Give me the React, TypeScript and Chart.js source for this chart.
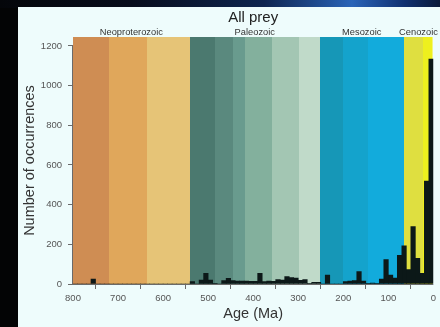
import React, { useEffect, useRef } from "react";
import { Chart, registerables } from "chart.js";

Chart.register(...registerables);

// Histogram bins (10 Myr), bin centre ages in Ma
const BIN_AGES = [
  5, 15, 25, 35, 45, 55, 65, 75, 85, 95,
  105, 115, 125, 135, 145, 155, 165, 175, 185, 195,
  205, 215, 225, 235, 245, 255, 265, 275, 285, 295,
  305, 315, 325, 335, 345, 355, 365, 375, 385, 395,
  405, 415, 425, 435, 445, 455, 465, 475, 485, 495,
  505, 515, 525, 535, 545, 555, 565, 575, 585, 595,
  605, 615, 625, 635, 645, 655, 665, 675, 685, 695,
  705, 715, 725, 735, 745, 755, 765, 775, 785, 795,
];
const COUNTS = [
  1134, 519, 54, 130, 290, 73, 192, 144, 30, 45,
  123, 25, 3, 5, 2, 15, 62, 17, 15, 12,
  0, 0, 0, 45, 0, 8, 8, 3, 22, 18,
  30, 32, 38, 20, 22, 13, 15, 12, 54, 14,
  14, 15, 15, 15, 17, 29, 17, 0, 2, 20,
  54, 20, 0, 12, 0, 0, 0, 0, 0, 0,
  0, 0, 0, 0, 0, 0, 0, 0, 0, 0,
  0, 0, 0, 0, 0, 25, 0, 0, 0, 0,
];

const X_TICKS = [800, 700, 600, 500, 400, 300, 200, 100, 0];
const Y_TICKS = [0, 200, 400, 600, 800, 1000, 1200];

const PERIOD_NAMES = [
  "Tonian", "Cryogenian", "Ediacaran", "Cambrian", "Ordovician", "Silurian",
  "Devonian", "Carboniferous", "Permian", "Triassic", "Jurassic", "Cretaceous",
  "Paleogene", "Neogene", "Quaternary",
];
const PERIOD_STARTS = [800, 720, 635, 541, 485, 444, 419, 359, 299, 252, 201, 145, 66, 23, 2.6];
const PERIOD_ENDS = [720, 635, 541, 485, 444, 419, 359, 299, 252, 201, 145, 66, 23, 2.6, 0];
const PERIOD_COLORS = [
  "#cf8d53", "#e0a75b", "#e6c477", "#4b796f", "#5a897e", "#699b8e",
  "#83b09d", "#a3c6b3", "#c0dac9", "#1697b7", "#14a3cc", "#12abdc",
  "#dfdf40", "#eef01e", "#f2f580",
];

const ERA_NAMES = ["Neoproterozoic", "Paleozoic", "Mesozoic", "Cenozoic"];
const ERA_STARTS = [800, 541, 252, 66];
const ERA_ENDS = [541, 252, 66, 0];

const TITLE = "All prey";
const FONT = "'Liberation Sans', Arial, Helvetica, sans-serif";

export default function App() {
  const ref = useRef<HTMLCanvasElement>(null);

  useEffect(() => {
    document.body.style.margin = "0";
    const canvas = ref.current!;

    const bandsPlugin = {
      id: "bands",
      beforeDatasetsDraw(chart: any) {
        const { ctx, chartArea } = chart;
        const xs = chart.scales.x;
        ctx.save();
        PERIOD_NAMES.forEach((_, i) => {
          const a = Math.round(xs.getPixelForValue(PERIOD_STARTS[i]));
          const b = Math.round(xs.getPixelForValue(PERIOD_ENDS[i]));
          ctx.fillStyle = PERIOD_COLORS[i];
          ctx.fillRect(Math.min(a, b), chartArea.top, Math.abs(b - a), chartArea.bottom - chartArea.top);
        });
        ctx.restore();
      },
      afterDraw(chart: any) {
        const { ctx, chartArea } = chart;
        const xs = chart.scales.x;
        const ys = chart.scales.y;
        ctx.save();
        ctx.strokeStyle = "#6a6a6a";
        ctx.lineWidth = 1;
        ctx.beginPath();
        const ax = Math.round(chartArea.left) - 0.5;
        ctx.moveTo(ax, ys.getPixelForValue(Y_TICKS[0]));
        ctx.lineTo(ax, ys.getPixelForValue(Y_TICKS[Y_TICKS.length - 1]));
        const ay = Math.round(chartArea.bottom) + 0.5;
        ctx.moveTo(xs.getPixelForValue(X_TICKS[0]), ay);
        ctx.lineTo(xs.getPixelForValue(X_TICKS[X_TICKS.length - 1]), ay);
        ctx.stroke();
        const cx = (chartArea.left + chartArea.right) / 2;
        ctx.fillStyle = "#222";
        ctx.textAlign = "center";
        ctx.textBaseline = "middle";
        ctx.font = `15px ${FONT}`;
        ctx.fillText(TITLE, cx, 18);
        ctx.font = `9.3px ${FONT}`;
        ctx.fillStyle = "#333";
        ERA_NAMES.forEach((name, i) => {
          const a = xs.getPixelForValue(ERA_STARTS[i]);
          const b = xs.getPixelForValue(ERA_ENDS[i]);
          ctx.fillText(name, (a + b) / 2, 32.5);
        });
        ctx.restore();
      },
    };

    const chart = new Chart(canvas, {
      type: "bar",
      data: {
        datasets: [
          {
            label: "Occurrences",
            data: BIN_AGES.map((a, i) => ({ x: a, y: COUNTS[i] })),
            backgroundColor: "#0c1818",
            borderWidth: 0,
            barPercentage: 1,
            categoryPercentage: 1,
          },
        ],
      },
      options: {
        animation: false,
        responsive: false,
        devicePixelRatio: 1,
        layout: { padding: { left: 0, right: 4, top: 37, bottom: 0 } },
        plugins: {
          legend: { display: false },
          tooltip: { enabled: false },
          title: { display: false },
        },
        scales: {
          x: {
            type: "linear",
            reverse: true,
            min: 0,
            max: 800,
            offset: false,
            afterBuildTicks: (s: any) => {
              s.ticks = X_TICKS.map((v) => ({ value: v }));
            },
            afterFit: (s: any) => {
              s.height = 43;
            },
            grid: {
              display: true,
              drawOnChartArea: false,
              drawTicks: true,
              tickLength: 5,
              color: "#6a6a6a",
            },
            border: { display: false },
            ticks: {
              font: { family: FONT, size: 9.5 },
              color: "#555",
              padding: 4,
              maxRotation: 0,
              autoSkip: false,
              callback: (v: any) => String(v),
            },
            title: {
              display: true,
              text: "Age (Ma)",
              font: { family: FONT, size: 14.5 },
              color: "#333",
              padding: { top: 0, bottom: 4 },
            },
          },
          y: {
            type: "linear",
            min: 0,
            max: 1245,
            afterBuildTicks: (s: any) => {
              s.ticks = Y_TICKS.map((v) => ({ value: v }));
            },
            afterFit: (s: any) => {
              s.width = 73;
            },
            grid: {
              display: true,
              drawOnChartArea: false,
              drawTicks: true,
              tickLength: 5,
              color: "#6a6a6a",
            },
            border: { display: false },
            ticks: {
              font: { family: FONT, size: 9.5 },
              color: "#555",
              padding: 6,
              autoSkip: false,
              callback: (v: any) => String(v),
            },
            title: {
              display: true,
              text: "Number of occurrences",
              font: { family: FONT, size: 14.5 },
              color: "#333",
              padding: { top: 21, bottom: 0 },
            },
          },
        },
      },
      plugins: [bandsPlugin],
    } as any);

    return () => chart.destroy();
  }, []);

  return (
    <div
      style={{
        position: "relative",
        width: 440,
        height: 327,
        background: "#030405",
        overflow: "hidden",
      }}
    >
      <div
        style={{
          position: "absolute",
          left: 0,
          top: 0,
          width: 440,
          height: 8,
          background:
            "linear-gradient(90deg, #04060a 0%, #070d1c 30%, #0e2550 60%, #2a64b8 80%, #103070 92%, #0a1a3a 100%)",
        }}
      />
      <div
        style={{
          position: "absolute",
          left: 18,
          top: 7,
          width: 422,
          height: 320,
          background: "#eefcfc",
        }}
      />
      <canvas
        ref={ref}
        width={440}
        height={327}
        style={{ position: "absolute", left: 0, top: 0, width: 440, height: 327 }}
      />
    </div>
  );
}
